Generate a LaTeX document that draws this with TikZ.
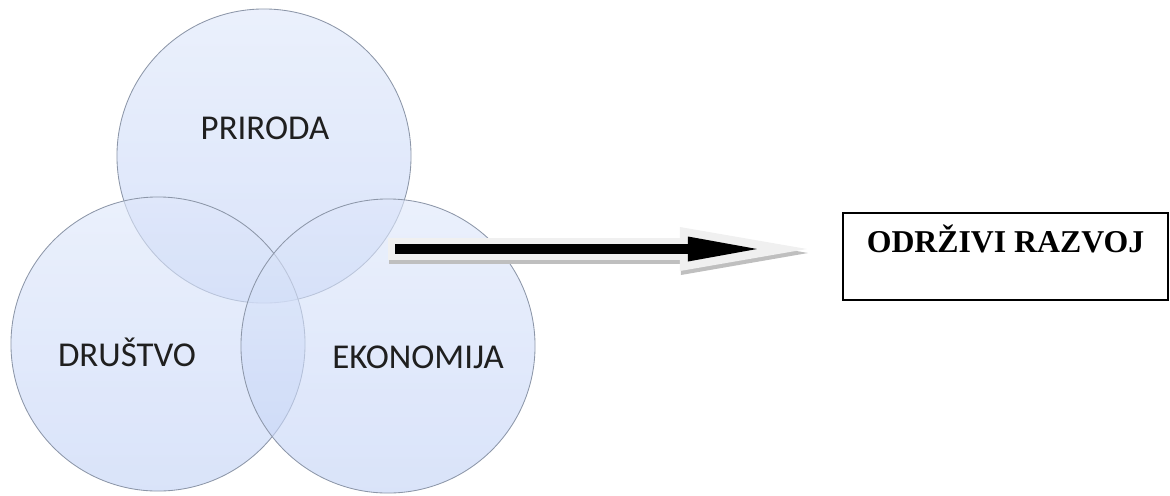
\documentclass[tikz,border=0pt]{standalone}
\usepackage{fontspec}
\setmainfont{Liberation Serif}
\newfontfamily\vennfont{Carlito}
\usepackage{tikz}
\usetikzlibrary{arrows.meta,positioning}
\definecolor{venntop}{RGB}{222,231,250}
\definecolor{vennbot}{RGB}{194,210,246}
\definecolor{vennline}{RGB}{140,150,168}
\tikzset{
  venn/.style={circle, minimum size=7.35cm, inner sep=0pt, draw=vennline, line width=0.6pt,
    top color=venntop, bottom color=vennbot, fill opacity=0.62},
  venntext/.style={font=\vennfont\fontsize{24.8}{30}\selectfont, text=black!88},
  goalbox/.style={draw, line width=1.1pt, minimum width=8.125cm, inner sep=0pt, anchor=north,
    text height=1.0cm, text depth=1.175cm, font=\bfseries\fontsize{22.6}{27}\selectfont},
  glow/.style={draw=gray!12, line width=0.55cm, -{Triangle[length=3.175cm, width=1.1cm, line width=0pt]}},
  glowshadow/.style={glow, draw=gray!50},
  line/.style={draw=black, line width=0.25cm, -{Triangle[length=1.725cm, width=0.625cm, line width=0pt]},
    shorten >=1.25cm, shorten <=0.175cm}
}
\begin{document}
\begin{tikzpicture}[x=0.025cm, y=-0.025cm]
  \useasboundingbox (0,0) rectangle (1170,495);
  \node[venn] (priroda) at (264,156) {};
  \node[venn] (drustvo) at (158,344) {};
  \node[venn] (ekonomija) at (388,346) {};

  \coordinate (tail) at (388,249);
  \coordinate (tip) at (807,249);
  \node[goalbox] (razvoj) at (1005.5,212) {ODRŽIVI RAZVOJ};

  \draw[glowshadow] ([shift={(1,4)}]tail) -- ([shift={(1,4)}]tip);
  \draw[glow] (tail) -- (tip);
  \draw[line] (tail) -- (tip);

  \node[venntext] (prirodatext) at (265,128) {PRIRODA};
  \node[venntext] (drustvotext) at (127,352) {DRUŠTVO};
  \node[venntext] (ekonomijatext) at (418,357) {EKONOMIJA};
\end{tikzpicture}
\end{document}
